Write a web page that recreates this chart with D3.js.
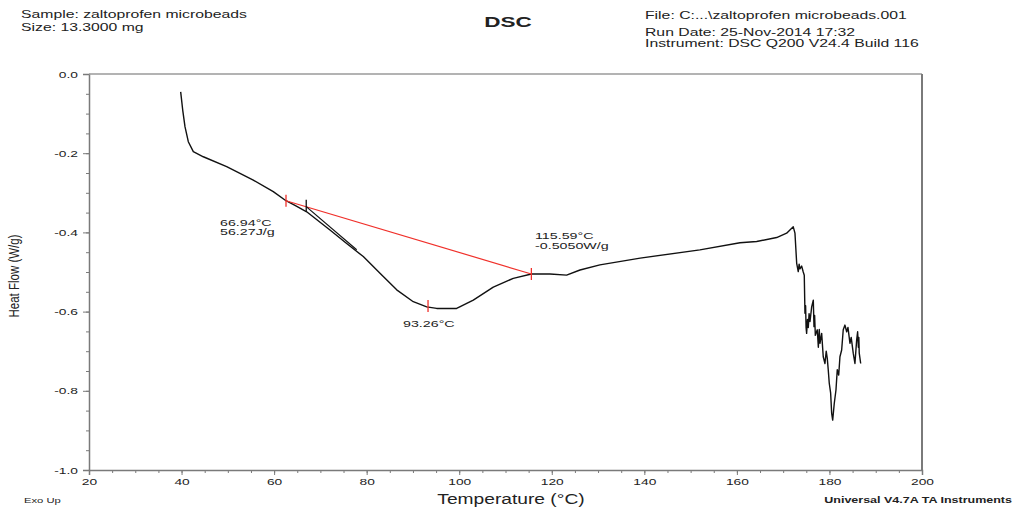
<!DOCTYPE html>
<html>
<head>
<meta charset="utf-8">
<script src="https://cdnjs.cloudflare.com/ajax/libs/d3/7.8.5/d3.min.js"></script>
<style>
  body { margin: 0; background: #fff; }
  svg { font-family: "Liberation Sans", Arial, sans-serif; }
  .axis path, .axis line { stroke: #7a7a7a; }
  .axis text { fill: #222; font-size: 9.5px; font-family: "Liberation Sans", Arial, sans-serif; }
</style>
</head>
<body>
<svg id="chart" width="1016" height="514"></svg>
<script>

// heat flow curve (temperature in °C, heat flow in W/g)
var temps = [39.81, 40.25, 40.74, 41.46, 42.54, 44.70, 49.75, 55.50, 59.82, 62.57,
  64.51, 67.04, 72.07, 75.68, 79.27, 82.88, 86.49, 90.07, 92.97, 95.13,
  99.45, 103.04, 107.36, 111.68, 115.59, 119.61, 123.2, 126.1, 130.4, 139.1,
  152.0, 160.67, 164.27, 168.59, 170.75, 172.18,
  172.55, 172.92, 173.26, 173.45, 173.63, 174.00, 174.34, 174.56, 174.71, 174.85,
  174.95, 175.07, 175.25, 175.43, 175.6, 175.8, 176.16, 176.51, 176.66, 176.8,
  176.95, 177.09, 177.37, 177.6, 177.8, 177.95, 178.32, 178.66, 179.03, 179.3,
  179.53, 179.74, 179.96, 180.26, 180.48, 180.70, 181.04, 181.41, 181.69, 182.0,
  182.27, 182.64, 182.98, 183.35, 183.72, 184.0, 184.43, 184.7, 185.14, 185.51,
  185.88, 186.09, 186.25, 186.35, 186.44, 186.75];
var heatFlow = [-0.045, -0.091, -0.133, -0.171, -0.196, -0.209, -0.234, -0.268, -0.297, -0.320,
  -0.332, -0.348, -0.394, -0.428, -0.461, -0.503, -0.545, -0.575, -0.588, -0.592,
  -0.592, -0.571, -0.538, -0.516, -0.505, -0.505, -0.508, -0.495, -0.482, -0.465,
  -0.444, -0.426, -0.423, -0.413, -0.402, -0.386,
  -0.402, -0.478, -0.499, -0.480, -0.492, -0.485, -0.500, -0.508, -0.604, -0.585,
  -0.640, -0.655, -0.620, -0.640, -0.605, -0.625, -0.588, -0.571, -0.638, -0.610,
  -0.660, -0.655, -0.646, -0.690, -0.645, -0.680, -0.655, -0.714, -0.731, -0.700,
  -0.718, -0.747, -0.781, -0.806, -0.857, -0.874, -0.832, -0.798, -0.747, -0.760,
  -0.714, -0.697, -0.646, -0.634, -0.651, -0.640, -0.680, -0.665, -0.705, -0.731,
  -0.672, -0.651, -0.690, -0.665, -0.705, -0.731];

// integration baseline (red) and onset tangent (black)
var baselineT = [62.57, 115.59];
var baselineH = [-0.320, -0.505];
var tangentT = [66.94, 77.84];
var tangentH = [-0.335, -0.444];

// marker ticks on the curve
var redMarkT = [62.57, 93.26, 115.59];
var redMarkH = [-0.320, -0.586, -0.505];
var onsetMarkT = [66.94];
var onsetMarkH = [-0.335];

// axes
var xTicks = [20, 40, 60, 80, 100, 120, 140, 160, 180, 200];
var yTicks = [0.0, -0.2, -0.4, -0.6, -0.8, -1.0];

var svg = d3.select("#chart");

var x = d3.scaleLinear().domain([20, 200]).range([89, 922]);
var y = d3.scaleLinear().domain([-1.0, 0.0]).range([470, 74]);

// the printout is stretched sideways, so widen the glyphs the same way
function stretch(sel, k){
  sel.each(function(){
    var w = this.getComputedTextLength();
    d3.select(this).attr("textLength", w * k).attr("lengthAdjust", "spacingAndGlyphs");
  });
}

function addText(px, py, str, size, weight, anchor, k){
  var t = svg.append("text")
    .attr("x", px).attr("y", py)
    .attr("font-size", size)
    .attr("font-weight", weight || "normal")
    .attr("text-anchor", anchor || "start")
    .attr("fill", "#222")
    .text(str);
  stretch(t, k || 1.5);
  return t;
}

// header texts
addText(21, 18, "Sample: zaltoprofen microbeads", 10.5);
addText(21, 31, "Size:  13.3000 mg", 10.5);
addText(508, 27, "DSC", 15, "bold", "middle");
addText(645, 19, "File: C:...\\zaltoprofen microbeads.001", 10.5);
addText(645, 36, "Run Date: 25-Nov-2014 17:32", 10.5);
addText(645, 47, "Instrument: DSC Q200 V24.4 Build 116", 10.5);

// minor ticks
svg.append("g").attr("class", "axis")
  .attr("transform", "translate(0," + y(-1.0) + ")")
  .call(d3.axisBottom(x).tickValues(d3.range(20, 201, 5)).tickSize(3).tickFormat(""));
svg.append("g").attr("class", "axis")
  .attr("transform", "translate(" + x(20) + ",0)")
  .call(d3.axisLeft(y).tickValues(d3.range(0, 21).map(function(i){ return -i * 0.05; })).tickSize(3).tickFormat(""));

// major ticks with labels
var xAxis = svg.append("g").attr("class", "axis")
  .attr("transform", "translate(0," + y(-1.0) + ")")
  .call(d3.axisBottom(x).tickValues(xTicks).tickSize(5).tickPadding(3).tickFormat(d3.format("d")));
xAxis.select(".domain").attr("stroke-width", 1.5);
stretch(xAxis.selectAll("text"), 1.45);

var yAxis = svg.append("g").attr("class", "axis")
  .attr("transform", "translate(" + x(20) + ",0)")
  .call(d3.axisLeft(y).tickValues(yTicks).tickSize(6).tickPadding(5)
    .tickFormat(function(d){ return d.toFixed(1); }));
yAxis.select(".domain").attr("stroke-width", 1.5);
stretch(yAxis.selectAll("text"), 1.45);

// frame top and right
svg.append("line").attr("x1", x(20)).attr("x2", x(200)).attr("y1", y(0)).attr("y2", y(0))
  .attr("stroke", "#9a9a9a").attr("stroke-width", 1.5);
svg.append("line").attr("x1", x(200)).attr("x2", x(200)).attr("y1", y(0)).attr("y2", y(-1))
  .attr("stroke", "#7a7a7a").attr("stroke-width", 2);

// axis titles
addText(511, 504, "Temperature (°C)", 14, "normal", "middle", 1.37);
svg.append("text")
  .attr("transform", "translate(19," + ((y(0) + y(-1)) / 2 + 4) + ") scale(1.3,1) rotate(-90)")
  .attr("text-anchor", "middle")
  .attr("font-size", 11.5)
  .attr("fill", "#222")
  .text("Heat Flow (W/g)");
addText(24, 503, "Exo Up", 8, "normal", "start", 1.4);
addText(1012, 503, "Universal V4.7A TA Instruments", 8.5, "bold", "end", 1.47);

// data line
var line = d3.line()
  .x(function(d){ return x(d[0]); })
  .y(function(d){ return y(d[1]); });

svg.append("path")
  .datum(d3.zip(temps, heatFlow))
  .attr("d", line)
  .attr("fill", "none")
  .attr("stroke", "#111")
  .attr("stroke-width", 1.4)
  .attr("stroke-linejoin", "round");

svg.append("path")
  .datum(d3.zip(baselineT, baselineH))
  .attr("d", line)
  .attr("fill", "none")
  .attr("stroke", "#f0302a")
  .attr("stroke-width", 1.2);

svg.append("path")
  .datum(d3.zip(tangentT, tangentH))
  .attr("d", line)
  .attr("fill", "none")
  .attr("stroke", "#111")
  .attr("stroke-width", 1.2);

// marker ticks
svg.selectAll(".redmark")
  .data(d3.zip(redMarkT, redMarkH))
  .enter().append("line")
  .attr("x1", function(d){ return x(d[0]); })
  .attr("x2", function(d){ return x(d[0]); })
  .attr("y1", function(d){ return y(d[1]) - 6; })
  .attr("y2", function(d){ return y(d[1]) + 6; })
  .attr("stroke", "#f0302a")
  .attr("stroke-width", 1.3);

svg.selectAll(".onsetmark")
  .data(d3.zip(onsetMarkT, onsetMarkH))
  .enter().append("line")
  .attr("x1", function(d){ return x(d[0]); })
  .attr("x2", function(d){ return x(d[0]); })
  .attr("y1", function(d){ return y(d[1]) - 7; })
  .attr("y2", function(d){ return y(d[1]) + 5; })
  .attr("stroke", "#111")
  .attr("stroke-width", 1.3);

// annotations
addText(220, 225.5, "66.94°C", 9.5);
addText(220, 235, "56.27J/g", 9.5);
addText(535, 238.5, "115.59°C", 9.5);
addText(535, 248.5, "-0.5050W/g", 9.5);
addText(403, 326.5, "93.26°C", 9.5);

</script>
</body>
</html>
